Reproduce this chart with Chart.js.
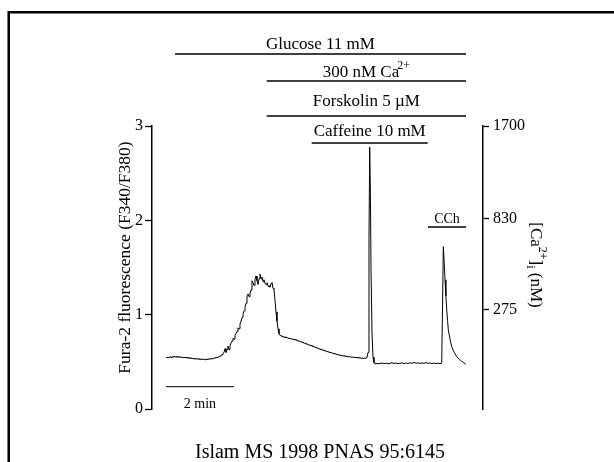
<!DOCTYPE html>
<html><head><meta charset="utf-8">
<script src="https://cdn.jsdelivr.net/npm/chart.js@4"></script>
<style>html,body{margin:0;padding:0;background:#fff;}#wrap{width:614px;height:462px;}</style>
</head><body><div id="wrap"><canvas id="c" width="614" height="462"></canvas></div>
<script>
// ---- data ----
const timeMin = [
0.412,0.441,0.471,0.500,0.529,0.559,0.588,0.618,0.647,0.676,0.706,0.735,0.765,0.794,0.824,0.853,0.882,0.912,0.941,0.971,
1.000,1.029,1.059,1.088,1.118,1.147,1.176,1.206,1.235,1.265,1.294,1.324,1.353,1.382,1.412,1.441,1.471,1.500,1.529,1.559,
1.588,1.618,1.647,1.676,1.706,1.735,1.765,1.794,1.824,1.853,1.882,1.912,1.941,1.971,2.000,2.029,2.059,2.088,2.118,2.147,
2.176,2.206,2.235,2.265,2.294,2.324,2.353,2.382,2.412,2.441,2.471,2.500,2.529,2.559,2.588,2.618,2.647,2.676,2.706,2.735,
2.765,2.794,2.824,2.853,2.882,2.912,2.941,2.971,3.000,3.029,3.059,3.088,3.118,3.147,3.176,3.206,3.235,3.265,3.294,3.324,
3.353,3.382,3.412,3.441,3.471,3.500,3.529,3.559,3.588,3.618,3.647,3.676,3.706,3.735,3.765,3.794,3.824,3.853,3.882,3.912,
3.941,3.971,4.000,4.029,4.059,4.088,4.118,4.147,4.176,4.206,4.235,4.265,4.294,4.324,4.353,4.382,4.412,4.441,4.471,4.500,
4.529,4.559,4.588,4.618,4.647,4.676,4.706,4.735,4.765,4.794,4.824,4.853,4.882,4.912,4.941,4.971,5.000,5.029,5.059,5.088,
5.118,5.147,5.176,5.206,5.235,5.265,5.294,5.324,5.353,5.382,5.412,5.441,5.471,5.500,5.529,5.559,5.588,5.618,5.647,5.676,
5.706,5.735,5.765,5.794,5.824,5.853,5.882,5.912,5.941,5.971,6.000,6.029,6.059,6.088,6.118,6.147,6.176,6.206,6.235,6.265,
6.294,6.324,6.353,6.382,6.403,6.426,6.441,6.471,6.500,6.529,6.559,6.588,6.618,6.647,6.676,6.706,6.765,6.824,6.882,6.941,
7.000,7.059,7.118,7.176,7.235,7.294,7.353,7.412,7.471,7.529,7.588,7.647,7.706,7.765,7.824,7.882,7.941,8.000,8.059,8.118,
8.176,8.235,8.294,8.353,8.412,8.471,8.500,8.521,8.545,8.568,8.594,8.618,8.643,8.668,8.692,8.715,8.765,8.815,8.888,8.962,
9.035,9.109,9.170,9.226
];
const fluorescenceRatio = [
0.545,0.55,0.54,0.55,0.555,0.545,0.555,0.55,0.56,0.55,0.555,0.548,0.556,0.55,0.553,0.547,0.552,0.545,0.55,0.543,
0.548,0.54,0.545,0.538,0.542,0.537,0.54,0.532,0.538,0.53,0.535,0.528,0.533,0.527,0.53,0.524,0.532,0.526,0.53,0.522,
0.528,0.525,0.533,0.527,0.53,0.536,0.532,0.54,0.535,0.545,0.54,0.55,0.545,0.555,0.56,0.57,0.575,0.59,0.6,0.64,
0.6,0.63,0.665,0.63,0.67,0.7,0.72,0.75,0.74,0.78,0.8,0.82,0.86,0.85,0.9,0.93,0.97,1.0,1.04,1.08,
1.12,1.2,1.22,1.19,1.23,1.26,1.36,1.34,1.31,1.37,1.41,1.36,1.32,1.38,1.43,1.38,1.40,1.35,1.37,1.33,
1.32,1.34,1.30,1.31,1.29,1.33,1.34,1.28,1.27,1.15,1.03,0.93,0.85,0.80,0.78,0.775,0.77,0.765,0.76,0.765,
0.755,0.758,0.75,0.752,0.745,0.748,0.74,0.742,0.735,0.738,0.73,0.727,0.72,0.722,0.715,0.712,0.71,0.704,0.70,0.696,
0.69,0.688,0.685,0.678,0.675,0.672,0.67,0.662,0.66,0.655,0.65,0.648,0.645,0.638,0.635,0.632,0.628,0.624,0.62,0.618,
0.612,0.61,0.606,0.603,0.60,0.597,0.594,0.59,0.588,0.585,0.582,0.578,0.576,0.573,0.57,0.568,0.566,0.562,0.565,0.56,
0.557,0.56,0.555,0.552,0.556,0.55,0.548,0.552,0.546,0.545,0.548,0.542,0.545,0.54,0.544,0.538,0.542,0.536,0.54,0.537,
0.54,0.545,0.6,1.8,2.775,2.2,1.5,0.8,0.55,0.49,0.482,0.478,0.484,0.48,0.486,0.482,0.488,0.481,0.486,0.479,
0.484,0.49,0.483,0.487,0.48,0.485,0.489,0.482,0.487,0.483,0.49,0.485,0.492,0.486,0.489,0.483,0.488,0.484,0.49,0.485,
0.488,0.482,0.487,0.483,0.486,0.481,0.485,0.49,1.1,1.72,1.55,1.37,1.2,1.05,0.94,0.84,0.74,0.66,0.6,0.555,
0.53,0.505,0.49,0.475
];
const ratioTicks = [0, 1, 2, 3];
const caTickRatios = [1.05, 2.015, 3.0];
const caTickLabels = ['275', '830', '1700'];
const treatmentNames = ['Glucose 11 mM', '300 nM Ca', 'Forskolin 5 \u00B5M', 'Caffeine 10 mM', 'CCh'];
const treatmentSup = ['', '2+', '', '', ''];
const treatmentStart = [0.676, 3.374, 3.374, 4.697, 8.118];
const treatmentEnd = [9.235, 9.235, 9.235, 8.109, 9.235];
const scaleBarMin = [0.41, 2.41];
const scaleBarLabel = '2 min';
const leftTitle = 'Fura-2 fluorescence (F340/F380)';
const citation = 'Islam MS 1998 PNAS 95:6145';

// ---- drawing ----
const SERIF = "'Liberation Serif','Times New Roman',serif";
const lineY = [54, 81, 116, 143, 227];
const textY = [49, 76.5, 106, 136, 223];
const textSize = [17, 17, 17, 17, 14];

const overlay = {
  id: 'overlay',
  afterDraw(chart) {
    const ctx = chart.ctx;
    const xs = chart.scales.x;
    ctx.save();
    ctx.fillStyle = '#000';
    ctx.strokeStyle = '#000';
    // frame
    ctx.lineWidth = 2.5;
    ctx.beginPath();
    ctx.moveTo(8.7, 462); ctx.lineTo(8.7, 12.2); ctx.lineTo(614, 12.2);
    ctx.stroke();
    // treatment bars
    ctx.lineWidth = 1.4;
    ctx.textBaseline = 'alphabetic';
    for (let i = 0; i < treatmentNames.length; i++) {
      const x1 = xs.getPixelForValue(treatmentStart[i]);
      const x2 = xs.getPixelForValue(treatmentEnd[i]);
      ctx.beginPath(); ctx.moveTo(x1, lineY[i]); ctx.lineTo(x2, lineY[i]); ctx.stroke();
      ctx.font = textSize[i] + 'px ' + SERIF;
      const w1 = ctx.measureText(treatmentNames[i]).width;
      let w2 = 0;
      if (treatmentSup[i]) { ctx.font = '12px ' + SERIF; w2 = ctx.measureText(treatmentSup[i]).width - 2; }
      const cx = (x1 + x2) / 2;
      const sx = cx - (w1 + w2) / 2;
      ctx.textAlign = 'left';
      ctx.font = textSize[i] + 'px ' + SERIF;
      ctx.fillText(treatmentNames[i], sx, textY[i]);
      if (treatmentSup[i]) { ctx.font = '12px ' + SERIF; ctx.fillText(treatmentSup[i], sx + w1 - 2, textY[i] - 8); }
    }
    // scale bar
    const b1 = xs.getPixelForValue(scaleBarMin[0]);
    const b2 = xs.getPixelForValue(scaleBarMin[1]);
    ctx.lineWidth = 1;
    ctx.beginPath(); ctx.moveTo(b1, 386.7); ctx.lineTo(b2, 386.7); ctx.stroke();
    ctx.font = '14px ' + SERIF;
    ctx.textAlign = 'center';
    ctx.fillText(scaleBarLabel, (b1 + b2) / 2, 408);
    // left title
    ctx.save();
    ctx.translate(130, 257.5);
    ctx.rotate(-Math.PI / 2);
    ctx.font = '17.5px ' + SERIF;
    ctx.textAlign = 'center';
    ctx.fillText(leftTitle, 0, 0);
    ctx.restore();
    // right title [Ca2+]i (nM)
    ctx.save();
    ctx.translate(531, 265);
    ctx.rotate(Math.PI / 2);
    const parts = [['[Ca', 17, 0], ['2+', 12, -8], [']', 17, 0], ['i', 12, 4], [' (nM)', 17, 0]];
    let total = 0;
    for (const p of parts) { ctx.font = p[1] + 'px ' + SERIF; total += ctx.measureText(p[0]).width; }
    let px = -total / 2;
    ctx.textAlign = 'left';
    for (const p of parts) {
      ctx.font = p[1] + 'px ' + SERIF;
      ctx.fillText(p[0], px, p[2]);
      px += ctx.measureText(p[0]).width;
    }
    ctx.restore();
    // citation
    ctx.font = '20px ' + SERIF;
    ctx.textAlign = 'center';
    ctx.fillText(citation, 320, 458);
    ctx.restore();
  }
};

new Chart(document.getElementById('c'), {
  type: 'line',
  data: {
    datasets: [{
      data: timeMin.map((t, i) => ({ x: t, y: fluorescenceRatio[i] })),
      borderColor: '#000', borderWidth: 1, pointRadius: 0, tension: 0, fill: false
    }]
  },
  options: {
    responsive: false, animation: false, devicePixelRatio: 1,
    layout: { padding: { left: 112, right: 86, top: 126, bottom: 53 } },
    plugins: { legend: { display: false }, tooltip: { enabled: false } },
    scales: {
      x: { type: 'linear', min: 0, max: 9.735, display: false },
      y: {
        position: 'left', min: 0, max: 3,
        afterBuildTicks: s => { s.ticks = ratioTicks.map(v => ({ value: v })); },
        afterFit: s => { s.width = 40; },
        ticks: { color: '#000', font: { family: SERIF, size: 16 }, padding: 2 },
        grid: { drawOnChartArea: false, drawTicks: true, tickLength: 7, tickColor: '#000', tickWidth: 1.3 },
        border: { color: '#000', width: 1.5 }
      },
      y2: {
        position: 'right', min: 0, max: 3,
        afterBuildTicks: s => { s.ticks = caTickRatios.map(v => ({ value: v })); },
        afterFit: s => { s.width = 45; },
        ticks: { color: '#000', font: { family: SERIF, size: 16 }, padding: 4,
                 callback: (v, i) => caTickLabels[i] },
        grid: { drawOnChartArea: false, drawTicks: true, tickLength: 6, tickColor: '#000', tickWidth: 1.3 },
        border: { color: '#000', width: 1.5 }
      }
    }
  },
  plugins: [overlay]
});
</script></body></html>
